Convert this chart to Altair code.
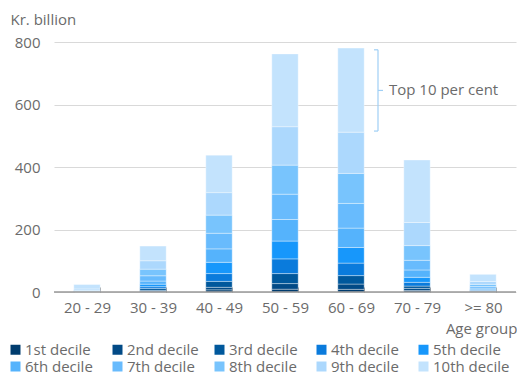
import altair as alt
import pandas as pd

age_groups = ["20 - 29", "30 - 39", "40 - 49", "50 - 59", "60 - 69", "70 - 79", ">= 80"]
deciles = ["1st decile", "2nd decile", "3rd decile", "4th decile", "5th decile",
           "6th decile", "7th decile", "8th decile", "9th decile", "10th decile"]
colors = ["#003c6e", "#024a86", "#00589c", "#0a7bdc", "#1797fb",
          "#55b3fc", "#68bbfd", "#78c4fd", "#acd8fd", "#c3e3fd"]

d1 = [0.3, 2, 7, 9, 8.5, 5, 1.5]
d2 = [0.4, 3, 8, 18, 17, 6.5, 1.5]
d3 = [0.5, 6, 19, 32, 27, 7.5, 1.5]
d4 = [0.6, 6, 25, 47, 40, 12, 2]
d5 = [0.7, 8, 36, 57, 50, 16, 2.5]
d6 = [0.9, 10, 43, 69, 62, 23.5, 3.5]
d7 = [1.1, 17, 50, 81, 79, 31, 5]
d8 = [1.5, 21, 58, 93, 96, 47, 7]
d9 = [4, 27, 72, 123, 132, 74, 9]
d10 = [14, 47, 120, 233, 269, 200, 23]
series = [d1, d2, d3, d4, d5, d6, d7, d8, d9, d10]

bracket_group = "60 - 69"
bracket_low = 515
bracket_high = 775
bracket_label = "Top 10 per cent"

rows = []
for i, (name, vals) in enumerate(zip(deciles, series)):
    for g, v in zip(age_groups, vals):
        rows.append({"age": g, "decile": name, "order": i, "value": v})
df = pd.DataFrame(rows)

FONT = "Open Sans"
FS = 15
GRAY = "#6b6b6b"

x_enc = alt.X(
    "age:N", sort=age_groups,
    scale=alt.Scale(paddingInner=0.6, paddingOuter=0.3),
    axis=alt.Axis(
        title="Age group", labelAngle=0, tickBand="extent", offset=-5,
        domain=False, tickSize=5, tickColor="#888888", labelPadding=8,
        titleAnchor="end", titleAlign="right", titleX=463, titleY=46,
        titleBaseline="alphabetic",
    ),
)

bars = alt.Chart(df).mark_bar(stroke="white", strokeWidth=0.6, strokeOpacity=0.6).encode(
    x=x_enc,
    y=alt.Y(
        "value:Q", stack="zero",
        scale=alt.Scale(domain=[0, 800], nice=False),
        axis=alt.Axis(
            values=[0, 200, 400, 600, 800], grid=True, gridColor="#d9d9d9",
            domain=False, ticks=False, labelPadding=14,
            title="Kr. billion", titleAngle=0, titleX=-44, titleY=-18,
            titleAlign="left", titleBaseline="alphabetic",
        ),
    ),
    color=alt.Color(
        "decile:N", sort=deciles,
        scale=alt.Scale(domain=deciles, range=colors),
        legend=alt.Legend(
            title=None, orient="none", direction="horizontal", legendX=-46, legendY=300,
            columns=5, symbolType="square", symbolSize=100, symbolStrokeWidth=0,
            labelFontSize=FS, labelColor=GRAY, labelFont=FONT, labelOffset=2,
            gridAlign="all", columnPadding=8, rowPadding=1,
        ),
    ),
    order=alt.Order("order:Q", sort="ascending"),
)

baseline = alt.Chart(pd.DataFrame({"v": [0]})).mark_rule(color="#999999", strokeWidth=1.5).encode(
    y="v:Q"
)

bdf = pd.DataFrame({"age": [bracket_group], "lo": [bracket_low], "hi": [bracket_high],
                    "mid": [(bracket_low + bracket_high) / 2], "label": [bracket_label]})

bcol = "#9fcff5"
vline = alt.Chart(bdf).mark_rule(color=bcol, strokeWidth=1.2, xOffset=27).encode(
    x=alt.X("age:N", sort=age_groups), y="lo:Q", y2="hi:Q"
)
cap_top = alt.Chart(bdf).mark_rule(color=bcol, strokeWidth=1.2, xOffset=23, x2Offset=27).encode(
    x=alt.X("age:N", sort=age_groups), x2="age:N", y="hi:Q"
)
cap_bot = alt.Chart(bdf).mark_rule(color=bcol, strokeWidth=1.2, xOffset=23, x2Offset=27).encode(
    x=alt.X("age:N", sort=age_groups), x2="age:N", y="lo:Q"
)
cap_mid = alt.Chart(bdf).mark_rule(color=bcol, strokeWidth=1.2, xOffset=27, x2Offset=32).encode(
    x=alt.X("age:N", sort=age_groups), x2="age:N", y="mid:Q"
)
label = alt.Chart(bdf).mark_text(align="left", baseline="middle", dx=38, fontSize=FS,
                                 color=GRAY, font=FONT).encode(
    x=alt.X("age:N", sort=age_groups), y="mid:Q", text="label:N"
)

chart = alt.layer(bars, baseline, vline, cap_top, cap_bot, cap_mid, label).properties(
    width=462, height=250,
    autosize=alt.AutoSizeParams(type="none"),
    padding={"left": 54, "top": 42, "right": 1, "bottom": 82},
    background="white",
).configure_view(stroke=None).configure_axis(
    labelFont=FONT, titleFont=FONT, labelFontSize=FS, titleFontSize=FS,
    labelColor=GRAY, titleColor=GRAY, titleFontWeight="normal",
)

chart.save("out.html", embed_options={"renderer": "svg", "actions": False})
